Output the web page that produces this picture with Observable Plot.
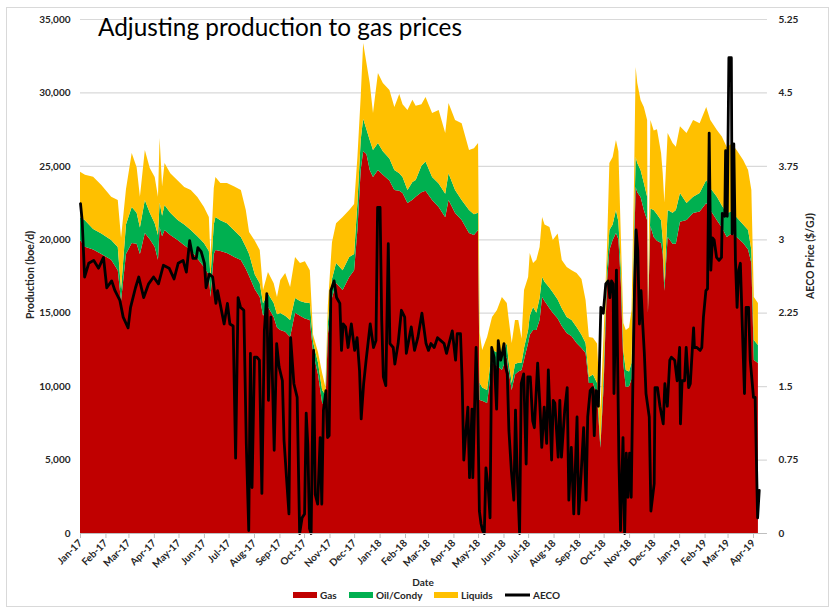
<!DOCTYPE html>
<html><head><meta charset="utf-8">
<script src="https://cdn.jsdelivr.net/npm/d3@7"></script>
<script src="https://cdn.jsdelivr.net/npm/@observablehq/plot@0.6"></script>
<style>
html,body{margin:0;padding:0;background:#fff;}
#wrap{position:relative;width:830px;height:608px;overflow:hidden;font-family:Lato,"Open Sans",sans-serif;}
#frame{position:absolute;left:6px;top:7px;width:823px;height:600px;border:1px solid #d9d9d9;box-sizing:border-box;}
#chart{position:absolute;left:0;top:0;}
#chart svg text{font-weight:bold;}
#overlay{position:absolute;left:0;top:0;pointer-events:none;}
</style></head>
<body>
<div id="wrap"><div id="frame"></div><div id="chart"></div><svg id="overlay" width="830" height="608"></svg></div>
<script>
// Days since 2017-01-01 for the production readings
const prodDay = [0,6,16,26,38,46,50,56,63,69,73,79,85,91,95,97,100,103,110,119,127,135,143,151,157,159,163,165,171,179,188,196,202,206,213,219,223,229,236,240,244,250,256,262,268,274,280,284,290,295,299,302,307,312,320,328,334,338,342,345,349,353,357,363,369,377,383,389,393,399,405,409,416,421,429,437,445,449,457,465,474,480,485,487,490,496,502,508,514,520,522,526,530,534,538,541,546,548,552,556,560,563,566,572,576,582,587,593,599,605,611,616,620,625,630,634,638,642,645,649,653,656,659,662,665,669,672,675,677,679,683,687,691,692,695,699,703,708,710,712,716,722,726,731,739,747,755,763,768,776,782,788,794,800,808,814,818,821,826];
const gas = [19950,19500,19300,19000,18600,17900,15800,19000,19750,19700,19000,20430,20000,19500,18600,20840,20200,20630,20300,19950,19600,19270,18700,18110,17600,16070,19000,19270,19200,19070,18800,18590,18000,17500,16600,16070,14800,15400,14700,14000,13820,13700,13350,15000,14800,14600,14500,12300,10800,8850,8700,13500,16000,17020,16550,17430,17900,20630,24720,26000,25800,24720,24240,24720,24400,24000,23350,23300,23150,22470,22700,22900,23200,23300,22670,22200,21500,22670,21790,21310,20430,20300,20630,9060,9000,8850,11580,11400,11100,12000,11100,9740,10800,11000,11100,11800,12940,13500,13820,13820,14500,16070,15800,15300,15000,14600,14100,13620,13400,12940,12600,12260,10210,10210,9400,5800,10000,17000,19270,19950,20430,20000,17000,11500,9940,10000,10500,19000,23560,23200,22880,21990,21300,15000,20900,20150,19900,19750,19000,16500,20150,19700,19700,21200,21310,21790,21900,22470,22000,21300,20800,20150,20400,20150,19750,19300,18380,11780,11580];
const oil = [1550,1800,1400,1400,1350,1570,800,2000,2450,2100,1800,2240,1800,1600,1700,1660,1400,1700,1500,1360,1400,1360,1500,1640,1600,1360,2000,2250,2100,2030,1800,1560,1500,1500,1000,930,850,900,960,900,1160,1100,1150,1000,1000,1100,1160,700,800,890,700,800,1300,1360,1350,1370,1100,1840,2040,2200,1700,2040,1840,1830,1600,1500,1370,1200,1090,880,1200,1140,1800,2000,1570,1600,1600,1830,1560,1360,1560,1400,1170,1150,900,890,880,900,900,940,680,470,700,600,500,800,880,1300,1570,1180,1500,1360,1300,1400,1400,1300,1200,1080,1100,1090,900,680,410,590,810,330,1000,1000,1360,1050,1560,1200,1000,900,1160,1000,1100,1500,2040,2000,1840,1840,1600,180,1200,1840,1800,1550,1000,500,1840,2100,2300,1950,1160,1110,1250,1570,1500,1600,1500,1640,1500,1350,1250,1330,890,1360,1220];
const liquids = [3100,3100,3560,3300,2950,3200,3500,2400,3670,3100,2100,3410,3050,3140,2600,4400,2000,2860,2700,2690,2560,2720,2680,2450,2320,1370,2500,2720,2530,2730,3000,3200,2490,1500,2300,2270,900,1470,1340,1170,2250,2900,2250,2800,2580,2800,2240,500,700,1160,540,1200,2500,2720,3620,3200,3400,3130,2930,5160,4500,3880,2520,4770,4640,4660,4280,5400,4960,5450,5600,5060,4200,4390,4360,5000,4140,4780,4770,5230,4090,4500,4750,3410,2560,3610,2240,2880,4070,2720,2920,2730,3000,2900,1640,3950,3610,4270,2990,3600,3470,4090,3900,4140,3550,4500,3290,3410,3400,3670,3800,2920,2730,2500,2690,2240,2620,1270,4560,4600,4770,4800,2150,1900,2720,3000,3580,3330,6130,5440,4760,5170,5220,120,6020,5410,5800,4570,4500,5500,5250,4750,4300,4550,4770,5220,4750,4960,4620,4540,4700,4490,4600,4580,4400,4090,4080,2930,2860];
// AECO price readings: [days since 2017-01-01, $/GJ]
const aeco = [[0,3.37],[2,3.2],[5,2.62],[10,2.76],[16,2.79],[22,2.71],[28,2.82],[32,2.51],[38,2.58],[42,2.48],[48,2.38],[52,2.21],[58,2.10],[61,2.31],[67,2.51],[71,2.62],[77,2.41],[83,2.55],[89,2.62],[95,2.55],[101,2.74],[108,2.71],[114,2.60],[119,2.76],[125,2.79],[129,2.67],[133,2.99],[137,2.81],[141,2.81],[143,2.92],[147,2.88],[151,2.76],[153,2.51],[157,2.65],[161,2.62],[165,2.35],[167,2.48],[171,2.31],[175,2.14],[179,2.35],[182,2.14],[186,2.12],[189,0.77],[192,2.41],[195,2.31],[199,2.28],[202,0.92],[205,0.03],[207,1.84],[209,0.47],[212,1.80],[215,1.80],[218,1.77],[221,0.41],[224,2.07],[227,2.45],[229,1.36],[232,2.21],[236,0.85],[239,1.94],[242,1.70],[246,1.56],[248,0.95],[251,0.57],[254,0.20],[256,2.00],[260,1.53],[264,1.39],[267,0.00],[270,0.16],[273,0.20],[275,1.23],[277,0.90],[279,0.05],[281,0.00],[284,1.87],[286,0.40],[289,0.30],[292,0.98],[294,0.30],[296,1.26],[299,1.46],[301,0.98],[303,1.00],[305,2.48],[309,2.58],[312,2.41],[316,2.35],[318,1.87],[320,2.14],[323,2.11],[326,1.90],[330,2.14],[334,1.87],[337,2.00],[340,1.66],[342,1.17],[345,1.53],[348,1.77],[353,2.14],[357,1.90],[360,1.97],[362,3.33],[365,3.33],[367,2.18],[369,1.60],[372,1.51],[375,2.96],[377,1.94],[381,1.90],[383,1.73],[387,1.94],[391,2.28],[395,2.21],[397,1.84],[403,2.11],[407,1.87],[411,2.00],[416,2.25],[421,1.94],[424,1.87],[427,1.94],[431,1.90],[435,2.00],[439,1.97],[443,1.94],[446,1.84],[449,1.94],[453,2.07],[457,1.77],[459,2.04],[463,2.04],[465,1.56],[467,0.75],[469,0.98],[472,1.29],[474,0.57],[477,1.27],[478,0.57],[482,1.90],[484,1.33],[486,0.23],[488,0.10],[490,0.03],[492,0.00],[494,0.67],[497,0.44],[499,0.16],[501,1.90],[504,1.80],[507,1.27],[509,1.97],[512,1.77],[514,1.84],[516,1.94],[518,1.70],[520,1.63],[522,1.05],[525,0.64],[528,0.34],[530,1.26],[532,0.64],[535,0.00],[537,1.53],[540,1.63],[543,0.71],[545,1.60],[548,1.60],[551,1.15],[553,1.08],[557,1.74],[560,1.26],[562,0.88],[565,1.29],[568,0.92],[570,1.67],[574,0.75],[576,1.36],[578,1.33],[582,0.78],[584,1.36],[586,0.78],[590,1.26],[593,1.49],[595,0.34],[598,0.88],[601,0.20],[605,1.19],[607,0.20],[610,0.61],[613,1.08],[616,0.34],[618,1.19],[621,1.46],[624,1.49],[626,1.00],[628,1.46],[631,1.30],[634,2.31],[637,2.25],[640,2.55],[643,2.58],[645,2.41],[647,2.58],[649,2.55],[650,1.43],[653,2.69],[656,0.75],[658,0.03],[661,0.98],[663,0.00],[665,0.82],[667,0.37],[669,0.82],[671,0.37],[673,1.53],[675,2.48],[677,3.10],[679,2.89],[681,2.14],[683,2.48],[685,2.14],[687,1.84],[689,1.43],[693,1.19],[695,0.23],[699,0.51],[700,1.49],[703,1.49],[706,1.30],[710,1.12],[712,1.53],[715,1.30],[718,1.77],[720,1.80],[724,1.77],[727,1.56],[730,1.90],[731,1.12],[733,1.56],[736,1.56],[738,1.90],[741,1.49],[743,1.53],[747,2.10],[748,1.90],[751,1.90],[755,1.87],[757,1.90],[759,2.21],[762,2.48],[764,2.50],[766,4.09],[768,2.69],[770,3.02],[772,3.00],[775,2.82],[778,2.79],[781,2.82],[782,3.27],[785,3.24],[786,3.91],[788,3.24],[790,4.86],[793,4.86],[794,3.06],[796,3.98],[798,2.79],[800,2.31],[802,2.69],[804,2.76],[806,2.21],[809,1.43],[811,2.31],[814,2.31],[816,1.77],[820,1.39],[822,1.39],[825,0.16],[827,0.44]];

const seriesNames = ["Gas","Oil/Condy","Liquids"];
const seriesColors = ["#C00000","#00B050","#FFC000"];
const prodTicks = [0,5000,10000,15000,20000,25000,30000,35000];
const aecoTicks = [0,0.75,1.5,2.25,3,3.75,4.5,5.25];
const titleText = "Adjusting production to gas prices";

const start = new Date(Date.UTC(2017,0,1));
const end = new Date(Date.UTC(2019,3,1));
const toDate = d => d3.utcDay.offset(start, d);
const gridEnd = toDate(837);
const K = 35000 / 5.25;

const rows = [];
[gas, oil, liquids].forEach((arr, s) => prodDay.forEach((d, i) => rows.push({date: toDate(d), series: seriesNames[s], value: arr[i]})));

const chart = Plot.plot({
  width: 830, height: 608,
  marginLeft: 80, marginRight: 77, marginTop: 19, marginBottom: 75,
  style: {fontFamily: "Lato, 'Open Sans', sans-serif", fontSize: "10px", color: "#262626", background: "transparent"},
  x: {type: "utc", domain: [start, end]},
  y: {domain: [0, 35000]},
  color: {domain: seriesNames, range: seriesColors},
  marks: [
    Plot.ruleY(prodTicks.slice(1), {x1: () => start, x2: () => gridEnd, stroke: "#d9d9d9", strokeWidth: 1.2}),
    Plot.areaY(rows, {x: "date", y: "value", fill: "series", order: seriesNames}),
    Plot.line(aeco, {x: d => toDate(d[0]), y: d => d[1] * K, stroke: "#000", strokeWidth: 2.8, strokeLinejoin: "round"}),
    Plot.ruleY([0], {x1: () => start, x2: () => gridEnd, stroke: "#bfbfbf", strokeWidth: 1}),
    Plot.axisX({ticks: d3.utcMonth.range(start, d3.utcDay.offset(end, 1)), tickFormat: d3.utcFormat("%b-%y"), tickRotate: -45, tickSize: 5, tickPadding: 3, stroke: "#bfbfbf", fill: "#262626", label: null, fontSize: 10}),
    Plot.axisY({ticks: prodTicks, tickFormat: d3.format(","), tickSize: 0, tickPadding: 10, label: null, fill: "#262626", fontSize: 10}),
    Plot.axisY({anchor: "right", ticks: aecoTicks.map(p => p * K), tickFormat: v => String(+(v / K).toFixed(2)), tickSize: 0, tickPadding: 25, label: null, fill: "#262626", fontSize: 10})
  ]
});
document.getElementById("chart").appendChild(chart);

const ov = d3.select("#overlay");
ov.append("text").attr("x", 98).attr("y", 36).attr("font-size", 25).attr("fill", "#000")
  .attr("textLength", 364).attr("lengthAdjust", "spacingAndGlyphs").text(titleText);
ov.append("text").attr("transform", "translate(34,275) rotate(-90)").attr("text-anchor", "middle")
  .attr("font-size", 10.5).attr("font-weight", "bold").attr("fill", "#262626").text("Production (boe/d)");
ov.append("text").attr("transform", "translate(814,256) rotate(-90)").attr("text-anchor", "middle")
  .attr("font-size", 10.5).attr("font-weight", "bold").attr("fill", "#262626").text("AECO Price ($/GJ)");
ov.append("text").attr("x", 423).attr("y", 586).attr("text-anchor", "middle")
  .attr("font-size", 10).attr("font-weight", "bold").attr("fill", "#262626").text("Date");
const leg = [{x: 293, label: "Gas", c: seriesColors[0]}, {x: 349, label: "Oil/Condy", c: seriesColors[1]}, {x: 434, label: "Liquids", c: seriesColors[2]}];
leg.forEach(l => {
  ov.append("rect").attr("x", l.x).attr("y", 592).attr("width", 24).attr("height", 6).attr("fill", l.c);
  ov.append("text").attr("x", l.x + 27).attr("y", 599).attr("font-size", 10).attr("font-weight", "bold").attr("fill", "#262626").text(l.label);
});
ov.append("line").attr("x1", 505).attr("x2", 530).attr("y1", 595).attr("y2", 595).attr("stroke", "#000").attr("stroke-width", 3);
ov.append("text").attr("x", 533).attr("y", 599).attr("font-size", 10).attr("font-weight", "bold").attr("fill", "#262626").text("AECO");
</script>
</body></html>
